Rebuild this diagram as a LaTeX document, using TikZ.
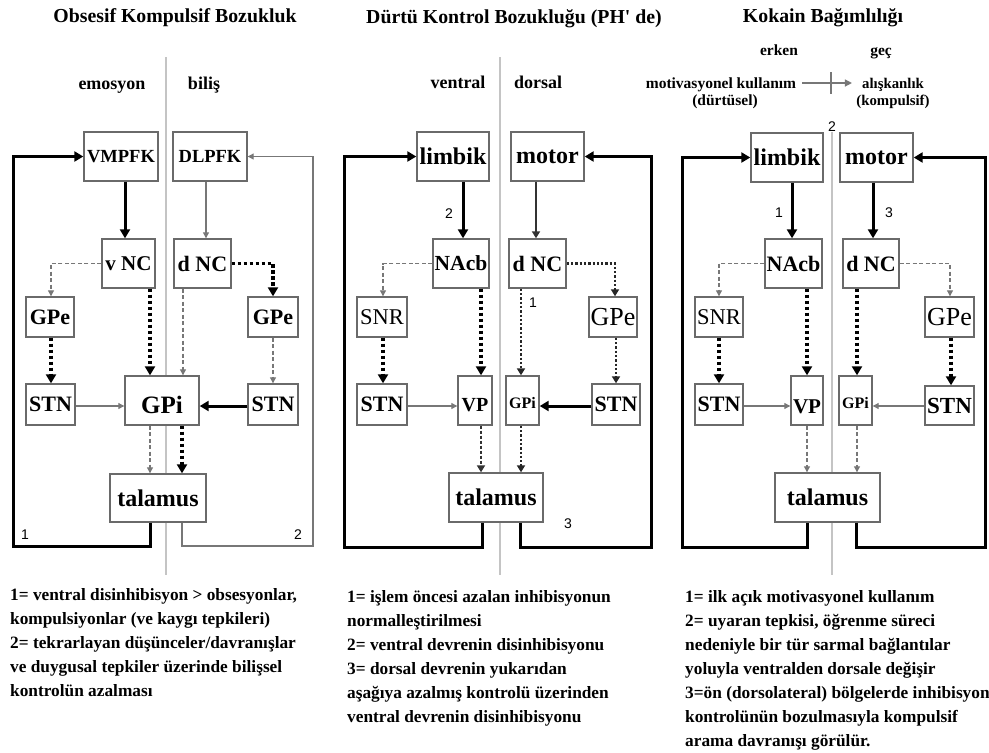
\documentclass[tikz,border=0pt]{standalone}
\usepackage{fontspec}
\setmainfont{Liberation Serif}
\newfontfamily\numfont{Liberation Sans}
\usetikzlibrary{arrows.meta}
\definecolor{boxc}{HTML}{6A6A6A}
\definecolor{linec}{HTML}{777777}
\definecolor{divc}{HTML}{C4C4C4}
\newcommand\fsz[1]{\fontsize{#1}{#1}\selectfont}
\newcommand\bx[8][]{\node[box,font=\bfseries\fsz{#7},minimum width={(#5)-(#3)},minimum height={(#6)-(#4)},#1] (#2) at ({((#3)+(#5))/2},{((#4)+(#6))/2}) {#8};}
\tikzset{
  box/.style={draw=boxc, line width=1.4pt, fill=white, inner sep=0pt},
  divider/.style={draw=divc, line width=1.4pt},
  thk/.style={line width=3pt, black, line join=miter, -{Triangle[length=9pt,width=10pt]}},
  thn/.style={line width=1.1pt, linec, line join=miter, -{Triangle[length=6pt,width=6pt]}},
  medsolid/.style={line width=1.8pt, black!80, -{Triangle[length=7pt,width=8pt]}},
  dashg/.style={line width=1.1pt, linec, dash pattern=on 4pt off 2.5pt, -{Triangle[length=6pt,width=6pt]}},
  dashm/.style={line width=1.8pt, black!80, dash pattern=on 3pt off 2pt, -{Triangle[length=7pt,width=8pt]}},
  dotk/.style={line width=3.5pt, black, dash pattern=on 3.5pt off 2.5pt, -{Triangle[length=9pt,width=10pt]}},
  dotm/.style={line width=2.3pt, black!85, dash pattern=on 2.3pt off 2pt, -{Triangle[length=7pt,width=8pt]}},
  hdrarrow/.style={line width=1.2pt, linec, -{Triangle[length=7pt,width=7pt]}},
  tickc/.style={line width=1.2pt, linec},
  ttl/.style={font=\bfseries\fsz{19.8}, inner sep=0pt, anchor=base},
  hdr/.style={font=\bfseries\fsz{18}, inner sep=0pt, anchor=base},
  hdrs/.style={font=\bfseries\fsz{15.5}, inner sep=0pt, anchor=base},
  hdrx/.style={font=\bfseries\fsz{14.8}, inner sep=0pt, anchor=base},
  num/.style={font=\numfont\fsz{14}, inner sep=0pt},
  note/.style={font=\bfseries\fontsize{17.3}{24}\selectfont, align=left, anchor=north west, inner sep=0pt}
}
\begin{document}
\begin{tikzpicture}[x=1pt,y=-1pt]
\useasboundingbox[fill=white] (0,0) rectangle (989,753);
% dividers
\draw[divider] (166,57) -- (166,575);
\draw[divider] (500,57) -- (500,575);
\draw[divider] (832,132) -- (832,575);
% titles
\node[ttl] (t1) at (175,22.5) {Obsesif Kompulsif Bozukluk};
\node[ttl] (t2) at (514,23) {Dürtü Kontrol Bozukluğu (PH\textquotesingle\ de)};
\node[ttl] (t3) at (823,22.5) {Kokain Bağımlılığı};
% headers
\node[hdr] (h1a) at (112,89) {emosyon};
\node[hdr] (h1b) at (204,89) {biliş};
\node[hdr] (h2a) at (458,88.5) {ventral};
\node[hdr] (h2b) at (538,88.5) {dorsal};
\node[hdrs] (erken) at (779,55) {erken};
\node[hdrs] (gec) at (881,55) {geç};
\node[hdrs] (mk) at (721,88) {motivasyonel kullanım};
\node[hdrs] (dt) at (725,105.5) {(dürtüsel)};
\node[hdrx] (al) at (893,88) {alışkanlık};
\node[hdrx] (kp) at (893,105.5) {(kompulsif)};
\draw[hdrarrow, shorten <=6pt, shorten >=10pt] (mk.east |- 0,83) -- (al.west |- 0,83);
\draw[tickc] (831,72) -- (831,94);
% panel 1 boxes
\bx{VMPFK}{84}{132}{158}{181}{18.5}{VMPFK}
\bx{DLPFK}{173}{132}{247}{181}{18.5}{DLPFK}
\bx{vNC1}{102}{239}{155}{288}{21}{v NC}
\bx{dNC1}{174}{239}{231}{288}{22}{d NC}
\bx{GPeL1}{26}{297}{74}{337}{22}{GPe}
\bx{GPeR1}{248}{297}{298}{337}{22}{GPe}
\bx{STNL1}{26}{384}{75}{425}{22}{STN}
\bx{STNR1}{248}{384}{298}{425}{22}{STN}
\bx[text height=26pt, text depth=0pt]{GPi1}{125}{376}{199}{425}{25}{GPi}
\bx{tal1}{110}{474}{206}{522}{24}{talamus}
% panel 2 boxes
\bx{limbik2}{417}{132}{489}{181}{24}{limbik}
\bx{motor2}{511}{132}{584}{181}{24}{motor}
\bx{NAcb2}{433}{239}{489}{288}{21.5}{NAcb}
\bx{dNC2}{509}{239}{566}{288}{22}{d NC}
\bx[font=\mdseries\fsz{22.5}]{SNR2}{357}{297}{407}{337}{22}{SNR}
\bx[font=\mdseries\fsz{26}]{GPe2}{589}{297}{637}{337}{22}{GPe}
\bx{STNL2}{357}{384}{407}{425}{22}{STN}
\bx{STNR2}{592}{384}{640}{425}{22}{STN}
\bx[text height=22pt, text depth=0pt]{VP2}{458}{376}{492}{425}{20}{VP}
\bx[text height=15.5pt, text depth=0pt]{GPi2}{506}{376}{539}{425}{16}{GPi}
\bx{tal2}{449}{473}{543}{522}{24}{talamus}
% panel 3 boxes
\bx{limbik3}{751}{133}{823}{182}{24}{limbik}
\bx{motor3}{840}{133}{913}{182}{24}{motor}
\bx{NAcb3}{765}{239}{822}{288}{22}{NAcb}
\bx{dNC3}{843}{239}{899}{288}{22}{d NC}
\bx[font=\mdseries\fsz{22.5}]{SNR3}{695}{297}{743}{337}{22}{SNR}
\bx[font=\mdseries\fsz{26}]{GPe3}{925}{297}{974}{337}{22}{GPe}
\bx{STNL3}{695}{384}{743}{425}{22}{STN}
\bx{STNR3}{925}{386}{974}{425}{23}{STN}
\bx[text height=26pt, text depth=0pt]{VP3}{791}{376}{823}{425}{21}{VP}
\bx[text height=15.5pt, text depth=0pt]{GPi3}{839}{376}{872}{425}{16}{GPi}
\bx{tal3}{775}{473}{880}{522}{24}{talamus}
% panel 1 connectors
\draw[thk] (tal1.south -| 150,0) -- (150,546) -- (13,546) |- (VMPFK.west);
\draw[thn] (tal1.south -| 182,0) -- (182,546) -- (313,546) |- (DLPFK.east);
\draw[thk] (VMPFK.south -| 125,0) -- (vNC1.north -| 125,0);
\draw[thn] (DLPFK.south -| 206,0) -- (dNC1.north -| 206,0);
\draw[dashg] (vNC1.west) -| (GPeL1.north -| 51,0);
\draw[dotk] (dNC1.east) -| (GPeR1.north -| 273,0);
\draw[dotk] (vNC1.south -| 150,0) -- (GPi1.north -| 150,0);
\draw[dashg] (dNC1.south -| 183,0) -- (GPi1.north -| 183,0);
\draw[dotk] (GPeL1.south -| 51,0) -- (STNL1.north -| 51,0);
\draw[dashg] (GPeR1.south -| 273,0) -- (STNR1.north -| 273,0);
\draw[thn] (STNL1.east |- 0,406) -- (GPi1.west |- 0,406);
\draw[thk] (STNR1.west |- 0,406) -- (GPi1.east |- 0,406);
\draw[dashg] (GPi1.south -| 150,0) -- (tal1.north -| 150,0);
\draw[dotk] (GPi1.south -| 182,0) -- (tal1.north -| 182,0);
% panel 2 connectors
\draw[thk] (tal2.south -| 482,0) -- (482,547) -- (344,547) |- (limbik2.west);
\draw[thk] (tal2.south -| 520,0) -- (520,547) -- (651,547) |- (motor2.east);
\draw[thk] (limbik2.south -| 463,0) -- (NAcb2.north -| 463,0);
\draw[medsolid] (motor2.south -| 536,0) -- (dNC2.north -| 536,0);
\draw[dashg] (NAcb2.west) -| (SNR2.north -| 383,0);
\draw[dotm] (dNC2.east) -| (GPe2.north -| 615,0);
\draw[dotk] (NAcb2.south -| 481,0) -- (VP2.north -| 481,0);
\draw[dotm] (dNC2.south -| 521,0) -- (GPi2.north -| 521,0);
\draw[dotk] (SNR2.south -| 383,0) -- (STNL2.north -| 383,0);
\draw[dotm] (GPe2.south -| 616,0) -- (STNR2.north -| 616,0);
\draw[thn] (STNL2.east |- 0,406) -- (VP2.west |- 0,406);
\draw[thk] (STNR2.west |- 0,406) -- (GPi2.east |- 0,406);
\draw[dashm] (VP2.south -| 481,0) -- (tal2.north -| 481,0);
\draw[dotm] (GPi2.south -| 521,0) -- (tal2.north -| 521,0);
% panel 3 connectors
\draw[thk] (tal3.south -| 807,0) -- (807,547) -- (682,547) |- (limbik3.west);
\draw[thk] (tal3.south -| 856,0) -- (856,547) -- (985,547) |- (motor3.east);
\draw[thk] (limbik3.south -| 792,0) -- (NAcb3.north -| 792,0);
\draw[thk] (motor3.south -| 873,0) -- (dNC3.north -| 873,0);
\draw[dashg] (NAcb3.west) -| (SNR3.north -| 719,0);
\draw[dashg] (dNC3.east) -| (GPe3.north -| 950,0);
\draw[dotk] (NAcb3.south -| 807,0) -- (VP3.north -| 807,0);
\draw[dotk] (dNC3.south -| 857,0) -- (GPi3.north -| 857,0);
\draw[dotk] (SNR3.south -| 719,0) -- (STNL3.north -| 719,0);
\draw[dotk] (GPe3.south -| 951,0) -- (STNR3.north -| 951,0);
\draw[thn] (STNL3.east |- 0,406) -- (VP3.west |- 0,406);
\draw[thn] (STNR3.west |- 0,406) -- (GPi3.east |- 0,406);
\draw[dashg] (VP3.south -| 807,0) -- (tal3.north -| 807,0);
\draw[dashg] (GPi3.south -| 857,0) -- (tal3.north -| 857,0);
% numbers
\node[num] (n11) at (25,535) {1};
\node[num] (n12) at (298,535) {2};
\node[num] (n22) at (449,214) {2};
\node[num] (n21) at (533,303) {1};
\node[num] (n23) at (568,524) {3};
\node[num] (n32) at (832,127) {2};
\node[num] (n31) at (779,213) {1};
\node[num] (n33) at (889,213) {3};
% notes
\node[note] (note1) at (10,588) {1= ventral disinhibisyon > obsesyonlar,\\kompulsiyonlar (ve kaygı tepkileri)\\2= tekrarlayan düşünceler/davranışlar\\ve duygusal tepkiler üzerinde bilişsel\\kontrolün azalması};
\node[note] (note2) at (347,590) {1= işlem öncesi azalan inhibisyonun\\normalleştirilmesi\\2= ventral devrenin disinhibisyonu\\3= dorsal devrenin yukarıdan\\aşağıya azalmış kontrolü üzerinden\\ventral devrenin disinhibisyonu};
\node[note] (note3) at (685,590) {1= ilk açık motivasyonel kullanım\\2= uyaran tepkisi, öğrenme süreci\\nedeniyle bir tür sarmal bağlantılar\\yoluyla ventralden dorsale değişir\\3=ön (dorsolateral) bölgelerde inhibisyon\\kontrolünün bozulmasıyla kompulsif\\arama davranışı görülür.};
\end{tikzpicture}
\end{document}
